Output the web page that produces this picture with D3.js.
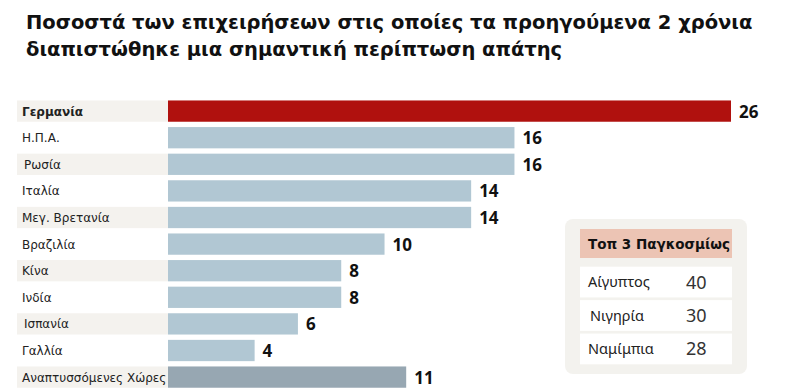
<!DOCTYPE html>
<html><head><meta charset="utf-8">
<script src="https://cdn.jsdelivr.net/npm/d3@7"></script>
<style>body{margin:0;background:#fff}svg{display:block}</style>
</head><body>
<script>
const titleLines = ["Ποσοστά των επιχειρήσεων στις οποίες τα προηγούμενα 2 χρόνια","διαπιστώθηκε μια σημαντική περίπτωση απάτης"];
const categories = ["Γερμανία","Η.Π.Α.","Ρωσία","Ιταλία","Μεγ. Βρετανία","Βραζιλία","Κίνα","Ινδία","Ισπανία","Γαλλία","Αναπτυσσόμενες Χώρες"];
const values = [26,16,16,14,14,10,8,8,6,4,11];
const tableTitle = "Τοπ 3 Παγκοσμίως";
const topCountries = ["Αίγυπτος","Νιγηρία","Ναμίμπια"];
const topValues = [40,30,28];

const W=810,H=388;
const svg=d3.select("body").append("svg").attr("width",W).attr("height",H);

svg.append("g").selectAll("text").data(titleLines).join("text")
 .attr("x",26).attr("y",(d,i)=>29+i*26.5)
 .attr("font-family","DejaVu Sans, Verdana, sans-serif").attr("font-weight","bold")
 .attr("font-size",19.5).attr("fill","#111").text(d=>d);

const step=26.6;
const y=d3.scaleBand().domain(categories).range([97.8,97.8+categories.length*step]).paddingInner(0.2).paddingOuter(0.1);
const x=d3.scaleLinear().domain([0,26]).range([168,731]);

const colorFor=(d,i)=> i===0?"#b0110e":(i===categories.length-1?"#97a7b2":"#b1c7d3");

const rows=svg.append("g").selectAll("g").data(categories).join("g");
rows.filter((d,i)=>i%2===0).append("rect")
 .attr("x",17).attr("y",d=>y(d)).attr("width",x(0)-17).attr("height",y.bandwidth()).attr("fill","#f4f2ee");
rows.append("text").attr("x",(d,i)=>(i===2||i===8)?24:22).attr("y",d=>y(d)+y.bandwidth()/2+4.5)
 .attr("font-family","DejaVu Sans, Verdana, sans-serif").attr("font-size",12)
 .attr("font-weight",(d,i)=>i===0?"bold":"normal").attr("fill","#222").text(d=>d);
rows.append("rect").attr("x",x(0)).attr("y",d=>y(d)).attr("height",y.bandwidth())
 .attr("width",(d,i)=>x(values[i])-x(0)).attr("fill",colorFor);
rows.append("text").attr("x",(d,i)=>x(values[i])+8).attr("y",d=>y(d)+y.bandwidth()/2+6.5)
 .attr("font-family","Open Sans, sans-serif").attr("font-weight","bold").attr("font-size",17)
 .attr("fill","#111").text((d,i)=>values[i]);

const tg=svg.append("g");
tg.append("rect").attr("x",565).attr("y",219).attr("width",182).attr("height",155).attr("rx",8).attr("fill","#f3f2ee");
tg.append("rect").attr("x",580).attr("y",229).attr("width",152).attr("height",29).attr("fill","#ecc4b4");
tg.append("text").attr("x",588).attr("y",249).attr("font-family","DejaVu Sans, Verdana, sans-serif")
 .attr("font-weight","bold").attr("font-size",13.5).attr("fill","#111").text(tableTitle);
const ty=d3.scaleBand().domain(topCountries).range([266,365]).paddingInner(0.08).paddingOuter(0.02);
const tr=tg.selectAll("g.r").data(topCountries).join("g");
tr.append("rect").attr("x",580).attr("y",d=>ty(d)).attr("width",152).attr("height",ty.bandwidth()).attr("fill","#fff");
tr.append("text").attr("x",(d,i)=>i===1?590:588).attr("y",d=>ty(d)+ty.bandwidth()/2+5)
 .attr("font-family","Noto Sans, sans-serif").attr("font-size",14.5).attr("fill","#222").text(d=>d);
tr.append("text").attr("x",686).attr("y",d=>ty(d)+ty.bandwidth()/2+6.5)
 .attr("font-family","Noto Sans, sans-serif").attr("font-size",18).attr("fill","#333").text((d,i)=>topValues[i]);
</script>
</body></html>
